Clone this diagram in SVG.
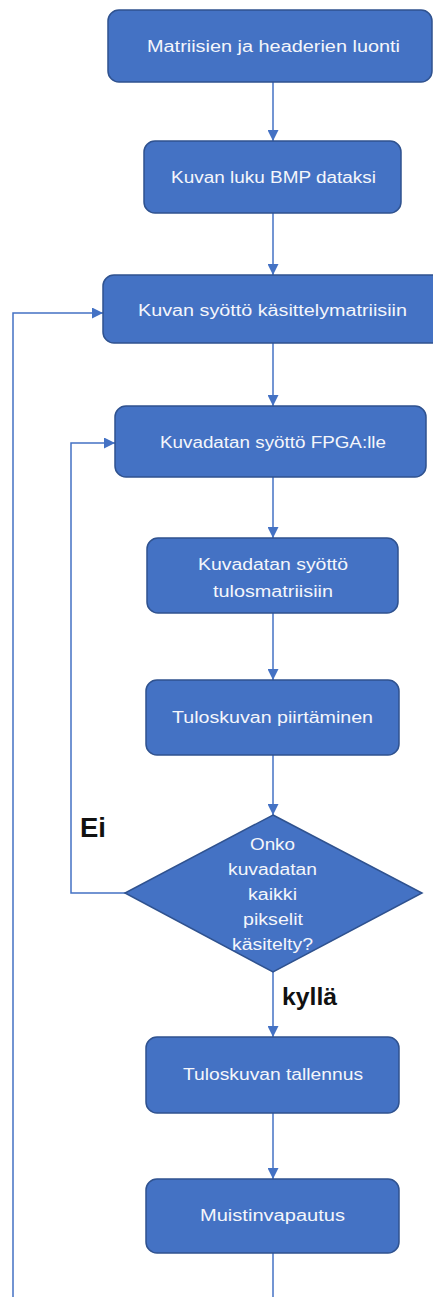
<svg xmlns="http://www.w3.org/2000/svg" width="433" height="1297" viewBox="0 0 433 1297">
  <style>
    .box { fill: #4472C4; stroke: #2F528F; stroke-width: 1.5; }
    .lbl { font-family: "Liberation Sans", Arial, sans-serif; font-size: 16px; fill: #F4F6FB; text-anchor: middle; }
    .tag { font-family: "Liberation Sans", Arial, sans-serif; font-weight: bold; fill: #111111; }
    .wire { fill: none; stroke: #4472C4; stroke-width: 1.5; }
  </style>
  <defs>
    <marker id="arrow" viewBox="0 0 10 10" refX="10" refY="5" markerWidth="11" markerHeight="11" markerUnits="userSpaceOnUse" orient="auto">
      <path d="M0,0 L10,5 L0,10 Z" fill="#4472C4"/>
    </marker>
  </defs>
  <rect width="433" height="1297" fill="#FFFFFF"/>

  <!-- connectors -->
  <g id="connectors">
    <path class="wire" d="M273,82 V141" marker-end="url(#arrow)"/>
    <path class="wire" d="M273,213 V275" marker-end="url(#arrow)"/>
    <path class="wire" d="M273,343 V406" marker-end="url(#arrow)"/>
    <path class="wire" d="M273,477 V538" marker-end="url(#arrow)"/>
    <path class="wire" d="M273,613 V680" marker-end="url(#arrow)"/>
    <path class="wire" d="M273,755 V815" marker-end="url(#arrow)"/>
    <path class="wire" d="M273,972 V1037" marker-end="url(#arrow)"/>
    <path class="wire" d="M273,1113 V1179" marker-end="url(#arrow)"/>
    <path class="wire" d="M273,1253 V1297"/>
    <path class="wire" d="M125,893 H71 V443 H115" marker-end="url(#arrow)"/>
    <path class="wire" d="M13,1297 V313 H103" marker-end="url(#arrow)"/>
    <text class="tag" x="80" y="837" font-size="28" textLength="26" lengthAdjust="spacingAndGlyphs">Ei</text>
    <text class="tag" x="282" y="1005" font-size="23" textLength="55" lengthAdjust="spacingAndGlyphs">kyllä</text>
  </g>

  <g id="n1">
    <rect class="box" x="108" y="10" width="324" height="72" rx="11"/>
    <text class="lbl" x="273.5" y="52" textLength="253" lengthAdjust="spacingAndGlyphs">Matriisien ja headerien luonti</text>
  </g>
  <g id="n2">
    <rect class="box" x="144" y="141" width="257" height="72" rx="11"/>
    <text class="lbl" x="273.5" y="183" textLength="205" lengthAdjust="spacingAndGlyphs">Kuvan luku BMP dataksi</text>
  </g>
  <g id="n3">
    <rect class="box" x="103" y="275" width="345" height="68" rx="11"/>
    <text class="lbl" x="272.5" y="316" textLength="269" lengthAdjust="spacingAndGlyphs">Kuvan syöttö käsittelymatriisiin</text>
  </g>
  <g id="n4">
    <rect class="box" x="115" y="406" width="311" height="71" rx="11"/>
    <text class="lbl" x="273" y="448" textLength="226" lengthAdjust="spacingAndGlyphs">Kuvadatan syöttö FPGA:lle</text>
  </g>
  <g id="n5">
    <rect class="box" x="147" y="538" width="251" height="75" rx="11"/>
    <text class="lbl" x="273" y="570" textLength="150" lengthAdjust="spacingAndGlyphs">Kuvadatan syöttö</text>
    <text class="lbl" x="273" y="597" textLength="120" lengthAdjust="spacingAndGlyphs">tulosmatriisiin</text>
  </g>
  <g id="n6">
    <rect class="box" x="146" y="680" width="253" height="75" rx="11"/>
    <text class="lbl" x="272.5" y="723" textLength="201" lengthAdjust="spacingAndGlyphs">Tuloskuvan piirtäminen</text>
  </g>
  <g id="n7">
    <polygon class="box" points="273,815 422,893 273,972 125,893"/>
    <text class="lbl" x="272.5" y="850" textLength="45" lengthAdjust="spacingAndGlyphs">Onko</text>
    <text class="lbl" x="272.5" y="875" textLength="89" lengthAdjust="spacingAndGlyphs">kuvadatan</text>
    <text class="lbl" x="272.5" y="900" textLength="49" lengthAdjust="spacingAndGlyphs">kaikki</text>
    <text class="lbl" x="273" y="925" textLength="60" lengthAdjust="spacingAndGlyphs">pikselit</text>
    <text class="lbl" x="272.5" y="950" textLength="81" lengthAdjust="spacingAndGlyphs">käsitelty?</text>
  </g>
  <g id="n8">
    <rect class="box" x="146" y="1037" width="253" height="76" rx="11"/>
    <text class="lbl" x="273" y="1080" textLength="180" lengthAdjust="spacingAndGlyphs">Tuloskuvan tallennus</text>
  </g>
  <g id="n9">
    <rect class="box" x="146" y="1179" width="253" height="74" rx="11"/>
    <text class="lbl" x="272.5" y="1221" textLength="145" lengthAdjust="spacingAndGlyphs">Muistinvapautus</text>
  </g>
</svg>
